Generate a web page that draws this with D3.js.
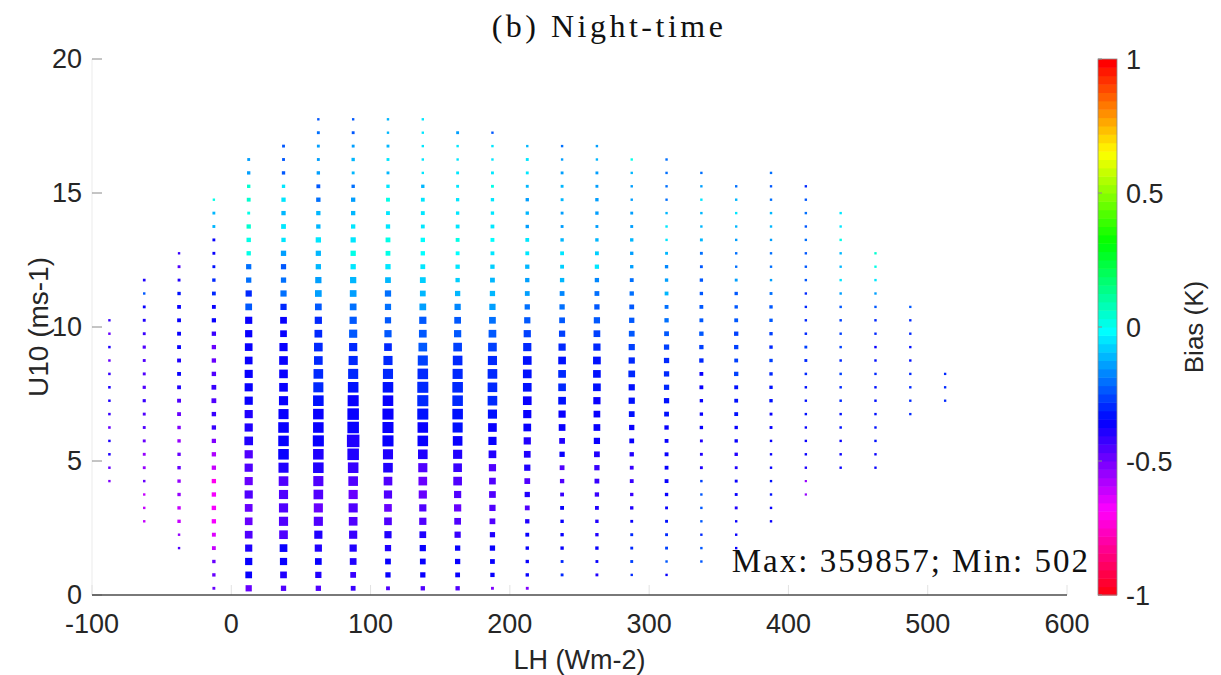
<!DOCTYPE html>
<html>
<head>
<meta charset="utf-8">
<script src="https://cdn.jsdelivr.net/npm/d3@7"></script>
<style>
  html, body { margin: 0; padding: 0; background: #fff; }
  svg { display: block; }
</style>
</head>
<body>
<svg id="chart" width="1221" height="675"></svg>
<script>
// ---------------- DATA ----------------
// LH bin centres (W m-2)
const lhBins = [-87.5, -62.5, -37.5, -12.5, 12.5, 37.5, 62.5, 87.5, 112.5, 137.5, 162.5, 187.5, 212.5,
                237.5, 262.5, 287.5, 312.5, 337.5, 362.5, 387.5, 412.5, 437.5, 462.5, 487.5, 512.5];
// U10 bin centres (m s-1)
const u10Bins = [0.25, 0.75, 1.25, 1.75, 2.25, 2.75, 3.25, 3.75, 4.25, 4.75, 5.25, 5.75, 6.25, 6.75, 7.25, 7.75,
                 8.25, 8.75, 9.25, 9.75, 10.25, 10.75, 11.25, 11.75, 12.25, 12.75, 13.25, 13.75, 14.25, 14.75,
                 15.25, 15.75, 16.25, 16.75, 17.25, 17.75];
// index into u10Bins of the lowest occupied bin of each LH column
const firstBin = [8, 5, 3, 0, 0, 0, 0, 0, 0, 0, 0, 0, 0, 1, 1, 1, 1, 2, 3, 5, 7, 9, 9, 13, 14];

// sample counts per column, from lowest U10 bin upward
const counts = [
  [1100, 1400, 1600, 1400, 1800, 1600, 1500, 1800, 1600, 1400, 1500, 1300, 1100],
  [1200, 1300, 1100, 1500, 3400, 3600, 3700, 3500, 3800, 5600, 6000, 3900, 3600, 5800, 3500, 3600, 3200, 1200, 2400],
  [1100, 1300, 7600, 7800, 7400, 7600, 8000, 7500, 7700, 8200, 13000, 13500, 12500, 13000, 13500, 12800, 13200, 12500, 12000, 7600, 3600, 3500, 1100],
  [3600, 7600, 7800, 13000, 14000, 20000, 21000, 20500, 20000, 19500, 20000, 19000, 20000, 21000, 28000, 27000, 21000, 20000, 19500, 20000, 18500, 13000, 12500, 7600, 3800, 3600, 3500, 3700, 3400, 1100],
  [62000, 76000, 92000, 90000, 109000, 107000, 110000, 128000, 126000, 128000, 130000, 148000, 128000, 127000, 129000, 126000, 125000, 109000, 108000, 92000, 90000, 76000, 62000, 38000, 37000, 20000, 21000, 19500, 3600, 13000, 7600, 7400, 3600],
  [38000, 76000, 92000, 109000, 148000, 169000, 170000, 168000, 192000, 216000, 242000, 240000, 243000, 216000, 169000, 148000, 147000, 149000, 128000, 76000, 77000, 62000, 61000, 38000, 37000, 38500, 20000, 28000, 20000, 19500, 7600, 7500, 3600, 3500],
  [38000, 62000, 76000, 92000, 128000, 169000, 168000, 192000, 216000, 242000, 241000, 269000, 242000, 240000, 243000, 216000, 192000, 148000, 147000, 109000, 92000, 76000, 75000, 62000, 38000, 37000, 38500, 20000, 19500, 20500, 13000, 7600, 3600, 3500, 3700, 1100],
  [28000, 49000, 76000, 92000, 128000, 148000, 169000, 170000, 192000, 242000, 298000, 359857, 298000, 297000, 269000, 242000, 216000, 169000, 128000, 127000, 92000, 76000, 75000, 62000, 38000, 38500, 37000, 20000, 20000, 19500, 7600, 3600, 7400, 3600, 3500, 1100],
  [13000, 38000, 49000, 62000, 92000, 109000, 108000, 128000, 148000, 192000, 216000, 269000, 268000, 270000, 242000, 241000, 216000, 169000, 109000, 92000, 62000, 61000, 62500, 49000, 38000, 28000, 28500, 20000, 13000, 13500, 7600, 3600, 3700, 3500, 1100, 1200],
  [20000, 38000, 49000, 62000, 76000, 92000, 91000, 128000, 148000, 169000, 192000, 242000, 241000, 269000, 270000, 268000, 242000, 216000, 148000, 109000, 92000, 76000, 49000, 50000, 28000, 20000, 20500, 13000, 13500, 12500, 7600, 1100, 1200, 1100, 1000, 1100],
  [20000, 28000, 38000, 38500, 62000, 76000, 92000, 91000, 148000, 147000, 169000, 192000, 216000, 242000, 241000, 243000, 216000, 192000, 148000, 92000, 76000, 62000, 38000, 20000, 19500, 13000, 13500, 12500, 7600, 7400, 3600, 3500, 1100, 1200, 3600],
  [3600, 20000, 28000, 38000, 37000, 49000, 62000, 76000, 75000, 92000, 109000, 128000, 148000, 169000, 192000, 191000, 193000, 169000, 148000, 109000, 76000, 62000, 38000, 28000, 20000, 13000, 13500, 12500, 7600, 7400, 3600, 3500, 1100, 1200, 1100],
  [3600, 7600, 7400, 7800, 13000, 20000, 28000, 38000, 49000, 62000, 76000, 92000, 109000, 128000, 148000, 147000, 149000, 148000, 128000, 92000, 62000, 38000, 28000, 20000, 19500, 13000, 12500, 7600, 7400, 7500, 3600, 3500, 3700, 1100],
  [3600, 3500, 7600, 7400, 7800, 13000, 12500, 20000, 28000, 38000, 49000, 76000, 92000, 109000, 108000, 110000, 109000, 92000, 62000, 49000, 38000, 28000, 20000, 13000, 12500, 7600, 3600, 3500, 3700, 3600, 3400, 1100, 1200],
  [3600, 3500, 7600, 7400, 7800, 13000, 20000, 28000, 38000, 49000, 62000, 76000, 75000, 92000, 109000, 108000, 110000, 92000, 76000, 62000, 38000, 28000, 20000, 19500, 13000, 7600, 3600, 7400, 7500, 3600, 3500, 1100, 1200],
  [1100, 3600, 3500, 3700, 3400, 7600, 7400, 13000, 12500, 20000, 28000, 38000, 49000, 62000, 61000, 76000, 62000, 61000, 49000, 38000, 28000, 20000, 13000, 7600, 7400, 7500, 3600, 3500, 1100, 1200, 1100, 1000],
  [1100, 1200, 3600, 3500, 3700, 3400, 7600, 13000, 12500, 13500, 12800, 20000, 28000, 38000, 37000, 38500, 38000, 37500, 28000, 20000, 13000, 12500, 7600, 7400, 3600, 1100, 1200, 1100, 1000, 1100, 1200, 1100],
  [1100, 1200, 1100, 1000, 1200, 1100, 1300, 3600, 3500, 3700, 7600, 7400, 7500, 13000, 12500, 20000, 19500, 20500, 13000, 12500, 7600, 7400, 3600, 3500, 3700, 1100, 1200, 1100, 1000, 1100],
  [1100, 1200, 1100, 3600, 3500, 3700, 3400, 7600, 7400, 7500, 13000, 12500, 13500, 20000, 13000, 19500, 20000, 13000, 7600, 7400, 3600, 1100, 1200, 1100, 1000, 1100, 1200, 1100],
  [1100, 1200, 1100, 1000, 1200, 1100, 1300, 3600, 3500, 7600, 7400, 7500, 7600, 7800, 7400, 7600, 7500, 3600, 1100, 1200, 1100, 1000, 1100, 1200, 1100, 1000, 1100],
  [600, 502, 1100, 1200, 1100, 1000, 1200, 1100, 1300, 1500, 3600, 3400, 1500, 1200, 1100, 1000, 1100, 1200, 1100, 1000, 1100, 1200, 1100, 1000],
  [1100, 1200, 1100, 1300, 1200, 1400, 1300, 1500, 1400, 1300, 1200, 1300, 1400, 1200, 1100, 1000, 1100, 1200, 1000, 1100],
  [1000, 1100, 1200, 1100, 1200, 1300, 1200, 1100, 1200, 1300, 1100, 1200, 1100, 1000, 1100, 1000, 900],
  [900, 1000, 1100, 1000, 1100, 1000, 1100, 1000, 900],
  [900, 1000, 900]
];

// mean bias (K) per column, from lowest U10 bin upward
const bias = [
  [-0.52, -0.5, -0.4, -0.4, -0.5, -0.42, -0.38, -0.38, -0.42, -0.48, -0.38, -0.48, -0.42],
  [-0.6, -0.6, -0.6, -0.5, -0.55, -0.55, -0.5, -0.45, -0.45, -0.42, -0.45, -0.45, -0.45, -0.45, -0.42, -0.38, -0.35, -0.25, -0.38],
  [-0.45, -0.55, -0.62, -0.62, -0.55, -0.55, -0.5, -0.5, -0.55, -0.52, -0.5, -0.45, -0.4, -0.35, -0.38, -0.35, -0.35, -0.35, -0.35, -0.32, -0.38, -0.45, -0.42],
  [-0.5, -0.48, -0.5, -0.62, -0.65, -0.68, -0.68, -0.68, -0.7, -0.62, -0.58, -0.52, -0.42, -0.42, -0.45, -0.42, -0.45, -0.48, -0.5, -0.42, -0.35, -0.35, -0.3, -0.3, -0.32, -0.35, -0.35, -0.12, -0.1, 0.0],
  [-0.5, -0.35, -0.35, -0.4, -0.45, -0.47, -0.5, -0.45, -0.47, -0.45, -0.45, -0.4, -0.4, -0.4, -0.35, -0.35, -0.35, -0.35, -0.35, -0.35, -0.35, -0.25, -0.3, -0.2, -0.2, 0.0, 0.0, 0.05, 0.0, 0.05, 0.05, -0.15, -0.15],
  [-0.45, -0.4, -0.35, -0.35, -0.45, -0.45, -0.45, -0.45, -0.45, -0.4, -0.35, -0.35, -0.35, -0.37, -0.35, -0.35, -0.35, -0.35, -0.35, -0.35, -0.35, -0.3, -0.2, -0.2, -0.25, -0.15, -0.05, -0.05, -0.1, -0.05, -0.05, -0.25, -0.25, -0.25],
  [-0.45, -0.4, -0.35, -0.4, -0.4, -0.45, -0.48, -0.45, -0.45, -0.4, -0.4, -0.35, -0.35, -0.35, -0.33, -0.3, -0.3, -0.3, -0.3, -0.3, -0.3, -0.25, -0.15, -0.15, -0.1, -0.1, -0.05, -0.1, -0.1, -0.2, -0.25, -0.15, -0.15, -0.15, -0.2, -0.25],
  [-0.42, -0.42, -0.38, -0.4, -0.42, -0.46, -0.46, -0.48, -0.45, -0.42, -0.4, -0.38, -0.35, -0.35, -0.35, -0.33, -0.3, -0.3, -0.3, -0.25, -0.25, -0.2, -0.15, -0.1, -0.05, 0.0, -0.05, -0.05, -0.1, -0.15, -0.2, -0.1, -0.1, -0.15, -0.25, -0.25],
  [-0.45, -0.35, -0.35, -0.38, -0.4, -0.45, -0.48, -0.45, -0.45, -0.4, -0.38, -0.35, -0.35, -0.35, -0.35, -0.32, -0.3, -0.3, -0.3, -0.25, -0.25, -0.2, -0.2, -0.1, -0.05, 0.0, 0.0, -0.05, -0.05, 0.0, -0.05, -0.1, -0.05, -0.1, -0.1, -0.1],
  [-0.45, -0.35, -0.35, -0.35, -0.38, -0.45, -0.46, -0.48, -0.48, -0.45, -0.4, -0.35, -0.35, -0.33, -0.3, -0.3, -0.3, -0.28, -0.25, -0.25, -0.22, -0.15, -0.1, -0.08, -0.05, -0.02, -0.02, -0.05, -0.05, -0.05, -0.1, -0.05, -0.05, -0.05, -0.05, -0.05],
  [-0.45, -0.35, -0.35, -0.35, -0.42, -0.45, -0.48, -0.46, -0.45, -0.42, -0.4, -0.35, -0.33, -0.32, -0.3, -0.3, -0.3, -0.3, -0.27, -0.25, -0.22, -0.18, -0.12, -0.08, -0.05, -0.02, 0.0, -0.05, -0.05, -0.05, -0.05, -0.05, -0.05, -0.05, -0.15],
  [-0.52, -0.35, -0.35, -0.35, -0.4, -0.45, -0.46, -0.46, -0.46, -0.45, -0.4, -0.37, -0.35, -0.33, -0.3, -0.3, -0.3, -0.3, -0.27, -0.25, -0.2, -0.15, -0.12, -0.1, -0.08, -0.05, -0.03, -0.05, -0.05, -0.05, 0.0, -0.05, -0.05, -0.05, -0.25],
  [-0.52, -0.35, -0.37, -0.37, -0.37, -0.38, -0.45, -0.4, -0.45, -0.4, -0.38, -0.38, -0.37, -0.35, -0.35, -0.33, -0.33, -0.33, -0.3, -0.27, -0.25, -0.2, -0.15, -0.15, -0.1, -0.05, -0.05, -0.15, -0.1, -0.15, -0.1, -0.05, -0.05, -0.1],
  [-0.3, -0.3, -0.35, -0.37, -0.37, -0.37, -0.42, -0.45, -0.45, -0.37, -0.38, -0.35, -0.35, -0.33, -0.3, -0.3, -0.33, -0.3, -0.27, -0.22, -0.2, -0.18, -0.12, -0.08, -0.05, -0.12, -0.15, -0.15, -0.1, -0.12, -0.15, -0.15, -0.2],
  [-0.4, -0.35, -0.35, -0.38, -0.4, -0.4, -0.42, -0.42, -0.42, -0.4, -0.35, -0.35, -0.35, -0.35, -0.33, -0.33, -0.33, -0.3, -0.27, -0.25, -0.22, -0.2, -0.18, -0.05, -0.08, -0.12, -0.15, -0.15, -0.15, -0.15, -0.15, -0.12, -0.15],
  [-0.3, -0.28, -0.3, -0.3, -0.35, -0.38, -0.42, -0.42, -0.42, -0.4, -0.35, -0.35, -0.33, -0.33, -0.32, -0.3, -0.3, -0.28, -0.25, -0.23, -0.22, -0.2, -0.2, -0.15, -0.15, -0.12, -0.15, -0.15, -0.15, -0.15, -0.1, 0.0],
  [-0.35, -0.25, -0.27, -0.3, -0.33, -0.35, -0.35, -0.37, -0.37, -0.35, -0.35, -0.35, -0.33, -0.32, -0.3, -0.3, -0.3, -0.27, -0.25, -0.2, -0.2, -0.12, -0.15, -0.18, -0.1, -0.05, -0.05, -0.1, -0.2, -0.2, -0.2, -0.2],
  [-0.25, -0.25, -0.3, -0.25, -0.25, -0.25, -0.28, -0.38, -0.4, -0.4, -0.35, -0.35, -0.35, -0.35, -0.35, -0.3, -0.28, -0.25, -0.25, -0.25, -0.22, -0.22, -0.22, -0.2, -0.12, -0.12, -0.1, -0.05, -0.15, -0.2],
  [-0.35, -0.35, -0.35, -0.38, -0.35, -0.35, -0.38, -0.38, -0.35, -0.35, -0.32, -0.32, -0.32, -0.28, -0.28, -0.28, -0.27, -0.25, -0.25, -0.22, -0.15, -0.2, -0.2, -0.15, -0.1, -0.05, -0.1, -0.2],
  [-0.35, -0.35, -0.33, -0.33, -0.35, -0.35, -0.37, -0.35, -0.35, -0.32, -0.32, -0.3, -0.28, -0.3, -0.28, -0.25, -0.22, -0.2, -0.15, -0.2, -0.2, -0.15, -0.12, -0.12, -0.2, -0.25, -0.2],
  [-0.55, -0.55, -0.4, -0.37, -0.35, -0.35, -0.33, -0.32, -0.32, -0.3, -0.3, -0.28, -0.3, -0.3, -0.3, -0.3, -0.25, -0.22, -0.25, -0.2, -0.25, -0.2, -0.25, -0.3],
  [-0.35, -0.35, -0.35, -0.33, -0.33, -0.3, -0.3, -0.28, -0.3, -0.28, -0.28, -0.28, -0.25, -0.15, -0.05, -0.1, -0.1, 0.0, -0.05, -0.05],
  [-0.35, -0.35, -0.33, -0.32, -0.32, -0.33, -0.33, -0.3, -0.32, -0.35, -0.3, -0.3, -0.25, -0.15, -0.05, 0.0, 0.05],
  [-0.3, -0.3, -0.3, -0.3, -0.32, -0.32, -0.3, -0.3, -0.25],
  [-0.3, -0.3, -0.3]
];

const xTicks = [-100, 0, 100, 200, 300, 400, 500, 600];
const yTicks = [0, 5, 10, 15, 20];
const cTicks = [-1, -0.5, 0, 0.5, 1];
const cTickLabels = ["-1", "-0.5", "0", "0.5", "1"];
const countMax = 359857, countMin = 502;

// ---------------- CHART ----------------
const svg = d3.select("#chart");
const SANS = "'Liberation Sans', Arial, Helvetica, sans-serif";
const SERIF = "'Liberation Serif', 'Times New Roman', serif";
const TXT = "#262626";

const x = d3.scaleLinear().domain([-100, 600]).range([92, 1067]);
const y = d3.scaleLinear().domain([0, 20]).range([595, 59]);
const size = d3.scaleSqrt().domain([countMin, countMax]).range([2.2, 12.5]);

// flipped 64-level HSV colormap (MATLAB flipud(hsv(64)))
const nColors = 64;
const cmap = d3.range(nColors).map(i => d3.hsl((nColors - 1 - i) / nColors * 360, 1, 0.5).formatHex());
const color = d3.scaleQuantize().domain([-1, 1]).range(cmap);

// flatten data
const points = [];
lhBins.forEach((lh, ci) => {
  counts[ci].forEach((c, k) => {
    points.push({ lh: lh, u: u10Bins[firstBin[ci] + k], n: c, b: bias[ci][k] });
  });
});

// y axis line (faint)
svg.append("line").attr("x1", x(-100)).attr("x2", x(-100)).attr("y1", y(0)).attr("y2", y(20))
  .attr("stroke", "#ebebeb").attr("stroke-width", 1);

// y ticks (inward)
svg.append("g").selectAll("line").data(yTicks).join("line")
  .attr("x1", x(-100)).attr("x2", x(-100) + 10)
  .attr("y1", d => y(d)).attr("y2", d => y(d))
  .attr("stroke", "#8a8a8a").attr("stroke-width", 1);
svg.append("g").selectAll("text").data(yTicks).join("text")
  .attr("x", 82).attr("y", d => y(d) + 9)
  .attr("text-anchor", "end")
  .attr("font-family", SANS).attr("font-size", 27).attr("fill", TXT)
  .text(d => d);

// x ticks (inward, faint)
svg.append("g").selectAll("line").data(xTicks).join("line")
  .attr("x1", d => x(d)).attr("x2", d => x(d))
  .attr("y1", y(0)).attr("y2", y(0) - 10)
  .attr("stroke", "#e2e2e2").attr("stroke-width", 1);
svg.append("g").selectAll("text").data(xTicks).join("text")
  .attr("x", d => x(d)).attr("y", 633)
  .attr("text-anchor", "middle")
  .attr("font-family", SANS).attr("font-size", 27).attr("fill", TXT)
  .text(d => d);

// markers
svg.append("g").selectAll("rect").data(points).join("rect")
  .attr("x", d => x(d.lh) - size(d.n) / 2)
  .attr("y", d => y(d.u) - size(d.n) / 2)
  .attr("width", d => size(d.n))
  .attr("height", d => size(d.n))
  .attr("fill", d => color(d.b));

// x axis line
svg.append("line").attr("x1", x(-100)).attr("x2", x(600)).attr("y1", y(0)).attr("y2", y(0))
  .attr("stroke", "#4d4d4d").attr("stroke-width", 1.5);

// axis labels
svg.append("text").attr("x", x(250)).attr("y", 669)
  .attr("text-anchor", "middle").attr("font-family", SANS).attr("font-size", 27).attr("fill", TXT)
  .text("LH (Wm-2)");
svg.append("text").attr("transform", `translate(48,${y(10)}) rotate(-90)`)
  .attr("text-anchor", "middle").attr("font-family", SANS).attr("font-size", 28).attr("fill", TXT)
  .text("U10 (ms-1)");

// title
svg.append("text").attr("x", 609).attr("y", 37)
  .attr("text-anchor", "middle").attr("font-family", SERIF).attr("font-size", 32)
  .attr("letter-spacing", 3.5).attr("fill", "#111")
  .text("(b) Night-time");

// annotation
svg.append("text").attr("x", 1090).attr("y", 572)
  .attr("text-anchor", "end").attr("font-family", SERIF).attr("font-size", 33)
  .attr("letter-spacing", 2).attr("fill", "#111")
  .text(`Max: ${countMax}; Min: ${countMin}`);

// colorbar
const cb = d3.scaleLinear().domain([-1, 1]).range([595, 59]);
const cbX = 1098, cbW = 19;
const bands = d3.range(nColors).map(i => ({ lo: -1 + 2 * i / nColors, hi: -1 + 2 * (i + 1) / nColors, c: cmap[i] }));
svg.append("g").selectAll("rect").data(bands).join("rect")
  .attr("x", cbX).attr("width", cbW)
  .attr("y", d => cb(d.hi)).attr("height", d => cb(d.lo) - cb(d.hi) + 0.5)
  .attr("fill", d => d.c);
svg.append("rect").attr("x", cbX).attr("y", cb(1)).attr("width", cbW).attr("height", cb(-1) - cb(1))
  .attr("fill", "none").attr("stroke", "#8a8a8a").attr("stroke-width", 0.8);
svg.append("g").selectAll("line").data(cTicks).join("line")
  .attr("x1", cbX).attr("x2", cbX + 4).attr("y1", d => cb(d)).attr("y2", d => cb(d))
  .attr("stroke", "#8a8a8a").attr("stroke-width", 1);
svg.append("g").selectAll("text").data(cTicks).join("text")
  .attr("x", cbX + cbW + 9).attr("y", d => cb(d) + 10)
  .attr("font-family", SANS).attr("font-size", 27).attr("fill", TXT)
  .text((d, i) => cTickLabels[i]);
svg.append("text").attr("transform", `translate(1203,${cb(0)}) rotate(-90)`)
  .attr("text-anchor", "middle").attr("font-family", SANS).attr("font-size", 26).attr("fill", TXT)
  .text("Bias (K)");
</script>
</body>
</html>
